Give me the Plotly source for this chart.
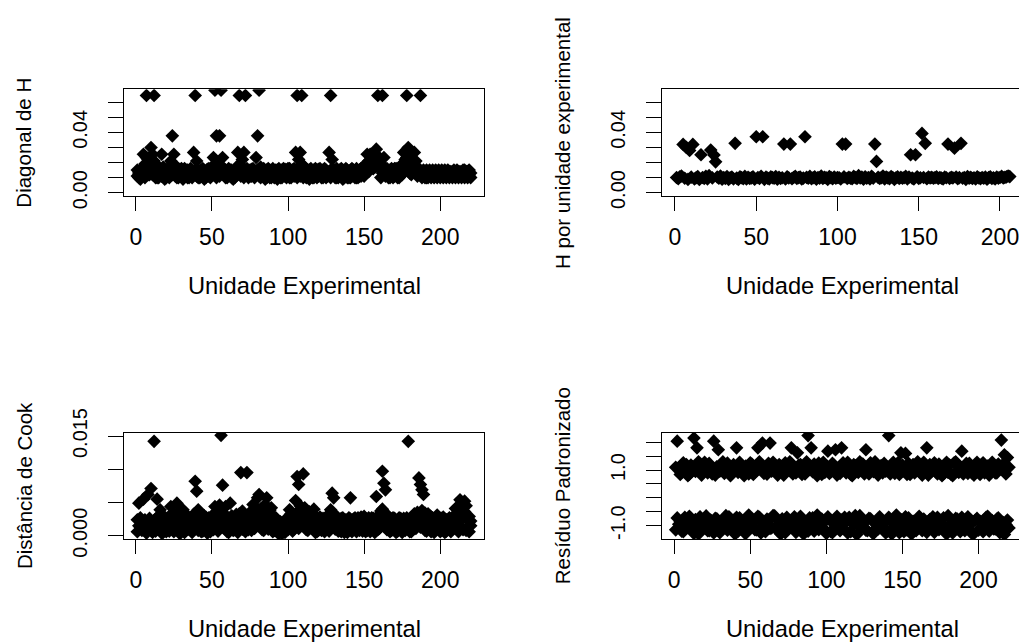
import plotly.graph_objects as go

# ---- data -------------------------------------------------------------
# Two observations per experimental unit (units 1..220) for the per-observation
# diagnostics; one value per unit (1..206) for H per experimental unit.

# Diagonal of H, first observation of each unit
diag_h_a = [
    0.011, 0.013, 0.009, 0.016, 0.0255, 0.019, 0.0645, 0.022, 0.012, 0.030,
    0.0255, 0.0645, 0.019, 0.010, 0.014, 0.012, 0.0255, 0.017, 0.009, 0.013,
    0.011, 0.015, 0.021, 0.0377, 0.0255, 0.018, 0.010, 0.014, 0.012, 0.016,
    0.009, 0.013, 0.011, 0.015, 0.010, 0.012, 0.014, 0.0267, 0.0645, 0.021,
    0.010, 0.013, 0.015, 0.011, 0.009, 0.014, 0.012, 0.016, 0.010, 0.013,
    0.0233, 0.068, 0.0377, 0.0178, 0.0377, 0.068, 0.0233, 0.012, 0.015, 0.010,
    0.013, 0.011, 0.015, 0.009, 0.014, 0.012, 0.0267, 0.0645, 0.016, 0.022,
    0.0267, 0.0645, 0.013, 0.010, 0.015, 0.011, 0.012, 0.014, 0.0233, 0.0377,
    0.068, 0.017, 0.011, 0.013, 0.009, 0.015, 0.012, 0.010, 0.014, 0.011,
    0.013, 0.015, 0.009, 0.012, 0.014, 0.010, 0.013, 0.011, 0.015, 0.012,
    0.010, 0.014, 0.012, 0.016, 0.0267, 0.0645, 0.022, 0.0267, 0.0645, 0.018,
    0.011, 0.013, 0.015, 0.009, 0.012, 0.014, 0.010, 0.013, 0.015, 0.011,
    0.012, 0.014, 0.010, 0.013, 0.015, 0.011, 0.0267, 0.0645, 0.022, 0.012,
    0.014, 0.010, 0.013, 0.015, 0.011, 0.009, 0.014, 0.012, 0.010, 0.013,
    0.015, 0.011, 0.012, 0.014, 0.010, 0.013, 0.015, 0.011, 0.012, 0.016,
    0.019, 0.0255, 0.021, 0.0255, 0.0255, 0.020, 0.017, 0.0289, 0.0645, 0.0233,
    0.0189, 0.0645, 0.0233, 0.016, 0.012, 0.014, 0.010, 0.013, 0.015, 0.011,
    0.012, 0.014, 0.010, 0.013, 0.019, 0.0267, 0.022, 0.0645, 0.030, 0.020,
    0.017, 0.022, 0.0267, 0.021, 0.016, 0.013, 0.0645, 0.014, 0.011, 0.013,
    0.015, 0.010, 0.012, 0.014, 0.011, 0.013, 0.015, 0.010, 0.012, 0.014,
    0.011, 0.013, 0.015, 0.010, 0.012, 0.014, 0.011, 0.013, 0.015, 0.010,
    0.012, 0.014, 0.011, 0.013, 0.015, 0.010, 0.012, 0.014, 0.011, 0.013,
]

# Diagonal of H, second observation of each unit
diag_h_b = [
    0.015, 0.010, 0.014, 0.011, 0.013, 0.010, 0.0233, 0.012, 0.0189, 0.0145,
    0.012, 0.021, 0.010, 0.015, 0.010, 0.016, 0.011, 0.013, 0.014, 0.010,
    0.016, 0.010, 0.013, 0.012, 0.016, 0.011, 0.015, 0.010, 0.0155, 0.011,
    0.014, 0.016, 0.015, 0.010, 0.014, 0.016, 0.010, 0.012, 0.015, 0.011,
    0.015, 0.010, 0.011, 0.016, 0.014, 0.010, 0.0155, 0.011, 0.014, 0.017,
    0.012, 0.016, 0.010, 0.014, 0.011, 0.015, 0.013, 0.016, 0.010, 0.014,
    0.016, 0.015, 0.010, 0.014, 0.010, 0.016, 0.012, 0.0189, 0.011, 0.013,
    0.010, 0.015, 0.016, 0.014, 0.011, 0.0155, 0.016, 0.010, 0.012, 0.015,
    0.011, 0.010, 0.015, 0.016, 0.014, 0.010, 0.016, 0.015, 0.010, 0.016,
    0.010, 0.011, 0.015, 0.016, 0.010, 0.015, 0.016, 0.0155, 0.010, 0.016,
    0.016, 0.010, 0.015, 0.011, 0.013, 0.010, 0.015, 0.011, 0.0189, 0.010,
    0.016, 0.010, 0.011, 0.015, 0.016, 0.010, 0.015, 0.016, 0.010, 0.0155,
    0.016, 0.010, 0.015, 0.016, 0.010, 0.014, 0.012, 0.010, 0.016, 0.015,
    0.010, 0.016, 0.010, 0.011, 0.016, 0.015, 0.010, 0.016, 0.015, 0.010,
    0.010, 0.016, 0.015, 0.010, 0.016, 0.010, 0.011, 0.016, 0.015, 0.011,
    0.013, 0.017, 0.014, 0.019, 0.021, 0.016, 0.0215, 0.020, 0.0189, 0.017,
    0.010, 0.013, 0.015, 0.011, 0.016, 0.010, 0.015, 0.016, 0.010, 0.016,
    0.016, 0.010, 0.015, 0.017, 0.012, 0.014, 0.017, 0.0233, 0.016, 0.013,
    0.012, 0.015, 0.017, 0.013, 0.011, 0.016, 0.012, 0.010, 0.015, 0.010,
    0.010, 0.014, 0.015, 0.010, 0.015, 0.010, 0.011, 0.014, 0.015, 0.010,
    0.015, 0.010, 0.011, 0.014, 0.015, 0.010, 0.014, 0.010, 0.011, 0.014,
    0.015, 0.010, 0.014, 0.010, 0.011, 0.015, 0.014, 0.010, 0.015, 0.010,
]

# H per experimental unit (206 units)
h_unit = [
    0.0100, 0.0092, 0.0105, 0.0110, 0.0320, 0.0095, 0.0300, 0.0088, 0.0280, 0.0102,
    0.0320, 0.0090, 0.0098, 0.0106, 0.0087, 0.0251, 0.0100, 0.0094, 0.0108, 0.0091,
    0.0112, 0.0282, 0.0097, 0.0249, 0.0204, 0.0103, 0.0095, 0.0110, 0.0089, 0.0100,
    0.0093, 0.0106, 0.0088, 0.0098, 0.0102, 0.0091, 0.0327, 0.0096, 0.0087, 0.0104,
    0.0099, 0.0092, 0.0107, 0.0090, 0.0101, 0.0094, 0.0097, 0.0105, 0.0089, 0.0371,
    0.0100, 0.0093, 0.0108, 0.0371, 0.0088, 0.0102, 0.0096, 0.0091, 0.0104, 0.0099,
    0.0095, 0.0106, 0.0089, 0.0101, 0.0093, 0.0098, 0.0322, 0.0090, 0.0105, 0.0097,
    0.0322, 0.0092, 0.0100, 0.0108, 0.0094, 0.0099, 0.0103, 0.0090, 0.0096, 0.0371,
    0.0101, 0.0095, 0.0107, 0.0092, 0.0098, 0.0104, 0.0089, 0.0100, 0.0096, 0.0110,
    0.0093, 0.0101, 0.0097, 0.0088, 0.0106, 0.0099, 0.0092, 0.0103, 0.0095, 0.0100,
    0.0098, 0.0090, 0.0322, 0.0104, 0.0322, 0.0094, 0.0101, 0.0096, 0.0092, 0.0107,
    0.0099, 0.0093, 0.0112, 0.0097, 0.0102, 0.0089, 0.0105, 0.0095, 0.0100, 0.0091,
    0.0108, 0.0096, 0.0322, 0.0207, 0.0101, 0.0094, 0.0099, 0.0110, 0.0090, 0.0103,
    0.0097, 0.0092, 0.0106, 0.0100, 0.0088, 0.0098, 0.0104, 0.0093, 0.0101, 0.0095,
    0.0099, 0.0107, 0.0091, 0.0102, 0.0251, 0.0096, 0.0090, 0.0251, 0.0105, 0.0094,
    0.0098, 0.0393, 0.0100, 0.0327, 0.0092, 0.0103, 0.0097, 0.0101, 0.0095, 0.0099,
    0.0104, 0.0093, 0.0100, 0.0096, 0.0091, 0.0102, 0.0098, 0.0322, 0.0094, 0.0101,
    0.0097, 0.0295, 0.0103, 0.0092, 0.0099, 0.0327, 0.0095, 0.0100, 0.0088, 0.0106,
    0.0096, 0.0101, 0.0093, 0.0098, 0.0090, 0.0104, 0.0097, 0.0092, 0.0100, 0.0095,
    0.0102, 0.0089, 0.0099, 0.0105, 0.0094, 0.0098, 0.0091, 0.0103, 0.0096, 0.0100,
    0.0107, 0.0097, 0.0101, 0.0104, 0.0110, 0.0106,
]

# Cook's distance, first observation of each unit
cook_a = [
    0.0024, 0.0049, 0.0012, 0.0008, 0.0055, 0.0016, 0.0004, 0.0062, 0.0010, 0.0071,
    0.0019, 0.0142, 0.0007, 0.0055, 0.0013, 0.0039, 0.0021, 0.0005, 0.0011, 0.0017,
    0.0009, 0.0026, 0.0044, 0.0014, 0.0006, 0.0031, 0.0049, 0.0018, 0.0003, 0.0012,
    0.0039, 0.0022, 0.0008, 0.0015, 0.0010, 0.0027, 0.0005, 0.0019, 0.0082, 0.0067,
    0.0039, 0.0011, 0.0023, 0.0007, 0.0016, 0.0028, 0.0004, 0.0013, 0.0020, 0.0030,
    0.0009, 0.0044, 0.0017, 0.0025, 0.0046, 0.0151, 0.0076, 0.0012, 0.0044, 0.0006,
    0.0021, 0.0049, 0.0014, 0.0008, 0.0027, 0.0018, 0.0005, 0.0033, 0.0095, 0.0037,
    0.0012, 0.0024, 0.0095, 0.0009, 0.0016, 0.0029, 0.0047, 0.0011, 0.0020, 0.0057,
    0.0062, 0.0015, 0.0026, 0.0008, 0.0019, 0.0057, 0.0032, 0.0013, 0.0042, 0.0006,
    0.0022, 0.0010, 0.0017, 0.0004, 0.0021, 0.0012, 0.0008, 0.0015, 0.0011, 0.0024,
    0.0039, 0.0018, 0.0027, 0.0010, 0.0053, 0.0089, 0.0077, 0.0045, 0.0016, 0.0093,
    0.0042, 0.0024, 0.0008, 0.0036, 0.0019, 0.0013, 0.0040, 0.0028, 0.0006, 0.0021,
    0.0015, 0.0025, 0.0009, 0.0018, 0.0028, 0.0012, 0.0023, 0.0039, 0.0064, 0.0057,
    0.0030, 0.0016, 0.0007, 0.0022, 0.0026, 0.0011, 0.0019, 0.0024, 0.0005, 0.0027,
    0.0057, 0.0017, 0.0025, 0.0010, 0.0021, 0.0027, 0.0008, 0.0014, 0.0026, 0.0019,
    0.0006, 0.0024, 0.0012, 0.0022, 0.0027, 0.0009, 0.0018, 0.0059, 0.0026, 0.0011,
    0.0037, 0.0097, 0.0079, 0.0069, 0.0025, 0.0014, 0.0021, 0.0008, 0.0027, 0.0016,
    0.0005, 0.0023, 0.0012, 0.0026, 0.0019, 0.0010, 0.0024, 0.0015, 0.0142, 0.0022,
    0.0017, 0.0026, 0.0033, 0.0011, 0.0020, 0.0087, 0.0077, 0.0069, 0.0062, 0.0034,
    0.0024, 0.0033, 0.0013, 0.0028, 0.0008, 0.0021, 0.0025, 0.0016, 0.0010, 0.0023,
    0.0026, 0.0012, 0.0019, 0.0007, 0.0022, 0.0014, 0.0025, 0.0011, 0.0030, 0.0041,
    0.0042, 0.0020, 0.0054, 0.0013, 0.0032, 0.0052, 0.0008, 0.0024, 0.0029, 0.0015,
]

# Cook's distance, second observation of each unit
cook_b = [
    0.0006, 0.0015, 0.0027, 0.0019, 0.0009, 0.0024, 0.0018, 0.0011, 0.0026, 0.0014,
    0.0005, 0.0022, 0.0025, 0.0010, 0.0030, 0.0008, 0.0004, 0.0024, 0.0028, 0.0006,
    0.0023, 0.0007, 0.0016, 0.0034, 0.0025, 0.0010, 0.0021, 0.0036, 0.0022, 0.0032,
    0.0012, 0.0005, 0.0026, 0.0030, 0.0024, 0.0009, 0.0021, 0.0032, 0.0014, 0.0025,
    0.0008, 0.0027, 0.0006, 0.0025, 0.0030, 0.0010, 0.0023, 0.0027, 0.0006, 0.0012,
    0.0029, 0.0011, 0.0035, 0.0007, 0.0016, 0.0040, 0.0024, 0.0033, 0.0010, 0.0028,
    0.0005, 0.0017, 0.0030, 0.0026, 0.0009, 0.0032, 0.0024, 0.0012, 0.0028, 0.0010,
    0.0031, 0.0006, 0.0022, 0.0030, 0.0035, 0.0008, 0.0019, 0.0034, 0.0041, 0.0026,
    0.0030, 0.0040, 0.0009, 0.0036, 0.0047, 0.0022, 0.0010, 0.0038, 0.0016, 0.0030,
    0.0008, 0.0027, 0.0005, 0.0019, 0.0007, 0.0003, 0.0018, 0.0005, 0.0026, 0.0009,
    0.0012, 0.0033, 0.0007, 0.0030, 0.0020, 0.0035, 0.0011, 0.0024, 0.0040, 0.0028,
    0.0015, 0.0009, 0.0032, 0.0012, 0.0034, 0.0026, 0.0010, 0.0005, 0.0027, 0.0008,
    0.0028, 0.0008, 0.0026, 0.0006, 0.0012, 0.0030, 0.0007, 0.0016, 0.0034, 0.0022,
    0.0010, 0.0029, 0.0025, 0.0008, 0.0006, 0.0027, 0.0005, 0.0012, 0.0023, 0.0009,
    0.0025, 0.0006, 0.0011, 0.0027, 0.0006, 0.0012, 0.0024, 0.0028, 0.0007, 0.0029,
    0.0026, 0.0008, 0.0027, 0.0006, 0.0013, 0.0026, 0.0005, 0.0022, 0.0009, 0.0032,
    0.0014, 0.0040, 0.0024, 0.0034, 0.0009, 0.0028, 0.0006, 0.0025, 0.0011, 0.0026,
    0.0022, 0.0007, 0.0027, 0.0009, 0.0005, 0.0026, 0.0008, 0.0027, 0.0012, 0.0006,
    0.0006, 0.0010, 0.0015, 0.0030, 0.0035, 0.0026, 0.0013, 0.0038, 0.0021, 0.0008,
    0.0007, 0.0012, 0.0030, 0.0006, 0.0027, 0.0005, 0.0010, 0.0031, 0.0026, 0.0006,
    0.0008, 0.0028, 0.0005, 0.0024, 0.0010, 0.0027, 0.0006, 0.0022, 0.0012, 0.0020,
    0.0030, 0.0006, 0.0024, 0.0035, 0.0009, 0.0036, 0.0045, 0.0012, 0.0006, 0.0022,
]

# Standardized residuals, observations with positive residual
resid_pos = [
    1.10, 2.04, 1.05, 0.84, 0.92, 1.26, 1.00, 1.20, 0.80, 0.85,
    1.18, 1.12, 2.15, 0.95, 1.80, 1.30, 0.98, 0.82, 1.15, 1.28,
    1.02, 0.90, 1.24, 1.08, 0.86, 2.04, 0.82, 1.12, 1.73, 0.96,
    1.15, 1.30, 0.88, 0.95, 1.25, 1.06, 0.80, 0.88, 1.20, 1.05,
    1.80, 0.92, 1.28, 1.18, 1.00, 0.80, 1.14, 1.00, 0.86, 1.26,
    1.22, 0.84, 0.92, 1.10, 1.80, 1.30, 1.10, 1.97, 0.88, 1.04,
    0.85, 1.24, 1.97, 0.96, 1.28, 1.08, 0.96, 0.82, 1.20, 1.14,
    0.90, 0.82, 1.26, 1.04, 1.16, 1.30, 1.80, 0.86, 1.00, 0.90,
    1.62, 1.18, 1.20, 0.84, 1.02, 0.86, 1.30, 2.24, 1.08, 1.80,
    0.94, 1.22, 0.98, 0.80, 1.25, 1.10, 0.84, 1.28, 0.92, 1.12,
    1.68, 0.88, 0.94, 1.24, 1.18, 1.73, 0.82, 1.02, 0.88, 1.80,
    1.26, 1.02, 0.90, 1.28, 1.06, 0.84, 0.80, 1.20, 1.15, 0.96,
    0.92, 1.30, 1.00, 1.22, 0.86, 1.73, 1.12, 0.86, 1.26, 1.06,
    0.94, 1.30, 1.16, 0.82, 1.04, 1.16, 0.90, 1.24, 0.96, 1.10,
    2.24, 0.86, 1.10, 1.28, 0.88, 1.02, 1.26, 0.84, 1.62, 1.18,
    0.98, 1.60, 0.84, 1.24, 0.84, 1.06, 1.20, 0.90, 1.04, 1.30,
    1.12, 0.90, 0.82, 1.28, 1.00, 1.80, 0.82, 1.20, 0.94, 1.14,
    1.26, 0.94, 0.86, 1.22, 1.04, 0.80, 0.86, 1.08, 1.28, 0.92,
    1.18, 0.84, 0.80, 1.26, 1.30, 0.96, 0.92, 1.10, 1.68, 0.86,
    1.02, 1.24, 0.88, 1.24, 1.12, 0.88, 0.82, 1.12, 1.28, 0.96,
    0.84, 1.20, 1.26, 0.90, 0.96, 1.14, 0.82, 1.06, 1.28, 1.16,
    0.90, 0.90, 1.22, 1.04, 2.08, 1.20, 1.55, 0.86, 1.45, 1.10,
]

# Standardized residuals, observations with negative residual
resid_neg = [
    -1.15, -0.72, -0.95, -0.85, -1.20, -1.22, -0.70, -1.05, -0.95, -0.66,
    -1.05, -0.84, -1.28, -0.78, -1.00, -1.30, -0.68, -0.88, -1.10, -0.92,
    -0.65, -1.18, -1.18, -0.80, -0.98, -1.26, -0.74, -0.75, -1.06, -1.25,
    -0.90, -0.90, -1.02, -0.64, -1.16, -0.68, -1.12, -0.96, -0.82, -1.30,
    -0.70, -1.20, -0.72, -1.04, -0.95, -1.24, -1.28, -0.84, -0.62, -1.05,
    -0.92, -0.85, -1.14, -1.15, -0.66, -0.70, -1.26, -0.90, -0.98, -1.22,
    -0.76, -0.80, -1.10, -1.08, -0.64, -0.65, -1.02, -1.18, -0.92, -1.30,
    -0.75, -1.16, -1.25, -0.70, -0.88, -1.06, -0.96, -1.02, -0.68, -1.24,
    -0.84, -1.12, -0.66, -0.82, -1.30, -0.94, -0.95, -1.20, -0.72, -1.08,
    -0.72, -1.20, -0.88, -0.62, -1.14, -1.05, -0.76, -0.90, -1.15, -1.28,
    -0.68, -0.78, -1.22, -1.25, -0.86, -1.02, -0.66, -1.00, -1.18, -0.80,
    -1.10, -0.70, -0.85, -1.26, -0.70, -1.22, -0.92, -0.95, -0.64, -1.32,
    -1.00, -0.64, -1.08, -0.82, -0.88, -1.16, -1.18, -0.74, -0.75, -1.24,
    -1.28, -0.90, -0.98, -1.12, -0.68, -0.80, -1.12, -0.90, -1.26, -1.20,
    -0.70, -0.80, -1.30, -1.05, -0.94, -0.62, -1.10, -1.25, -0.78, -0.92,
    -1.22, -0.68, -1.15, -0.72, -1.04, -1.30, -0.84, -0.86, -1.18, -1.02,
    -0.66, -1.10, -1.18, -0.76, -0.95, -1.24, -0.90, -0.78, -1.10, -0.68,
    -1.24, -0.86, -0.70, -1.14, -0.88, -1.05, -0.72, -1.20, -1.30, -0.64,
    -0.98, -0.96, -1.26, -1.14, -0.74, -0.76, -1.08, -1.22, -0.70, -0.84,
    -1.18, -1.08, -0.68, -0.92, -0.94, -1.30, -1.28, -0.80, -0.74, -1.16,
    -0.84, -0.90, -1.22, -1.02, -0.70, -0.66, -1.20, -0.96, -0.82, -1.12,
    -1.12, -0.76, -0.72, -1.25, -1.04, -0.88, -1.32, -0.96, -0.80, -1.08,
]

x_ticks = [0, 50, 100, 150, 200]
x_ticktext = ["0", "50", "100", "150", "200"]
h_ticks = [0.0, 0.01, 0.02, 0.03, 0.04, 0.05, 0.06]
h_ticktext = ["0.00", "", "", "", "0.04", "", ""]
cook_ticks = [0.0, 0.005, 0.010, 0.015]
cook_ticktext = ["0.000", "", "", "0.015"]
resid_ticks = [-1.0, -0.5, 0.0, 0.5, 1.0, 1.5, 2.0]
resid_ticktext = ["-1.0", "", "", "", "1.0", "", ""]

x_title = "Unidade Experimental"
y_titles = ["Diagonal de H", "H por unidade experimental",
            "Distância de Cook", "Resíduo Padronizado"]

# ---- figure -----------------------------------------------------------
W, H = 1019, 644
FONT = "Liberation Sans, Arial, sans-serif"

def px_x(p):
    return p / W

def px_y(p):
    return 1 - p / H

def units(vals):
    return list(range(1, len(vals) + 1))

panels = [
    [diag_h_a, diag_h_b],
    [h_unit],
    [cook_a, cook_b],
    [resid_pos, resid_neg],
]

fig = go.Figure()
for k, groups in enumerate(panels):
    suffix = "" if k == 0 else str(k + 1)
    xs, ys = [], []
    for vals in groups:
        xs += units(vals)
        ys += vals
    fig.add_trace(go.Scatter(
        x=xs, y=ys, mode="markers",
        marker=dict(symbol="diamond", size=10.5, color="black", line=dict(width=0)),
        xaxis="x" + suffix, yaxis="y" + suffix,
        showlegend=False, hoverinfo="x+y",
    ))

# box positions in pixels: (left, right, top, bottom)
left_l, left_r = 124, 484
right_l, right_r = 662.3, W
top_t, top_b = 89.3, 196
bot_t, bot_b = 432.7, 539.3

x_ranges = [[-7.76, 228.76], [-7.8, 211.7], [-7.76, 228.76], [-7.8, 226.6]]
y_ranges = [[-0.0022, 0.0686], [-0.0023, 0.0686], [-0.00054, 0.0155], [-1.49, 2.345]]
y_tickvals = [h_ticks, h_ticks, cook_ticks, resid_ticks]
y_ticktexts = [h_ticktext, h_ticktext, cook_ticktext, resid_ticktext]
boxes = [
    (left_l, left_r, top_t, top_b),
    (right_l, right_r, top_t, top_b),
    (left_l, left_r, bot_t, bot_b),
    (right_l, right_r, bot_t, bot_b),
]

layout = dict(
    template="none",
    width=W, height=H,
    margin=dict(l=0, r=0, t=0, b=0, pad=0, autoexpand=False),
    paper_bgcolor="white", plot_bgcolor="white",
    font=dict(family=FONT, color="black"),
    annotations=[],
)

for k in range(4):
    suffix = "" if k == 0 else str(k + 1)
    l, r, t, b = boxes[k]
    full_box = r < W
    layout["xaxis" + suffix] = dict(
        domain=[px_x(l), px_x(r)], range=x_ranges[k],
        anchor="y" + suffix, automargin=False,
        showgrid=False, zeroline=False,
        showline=True, mirror=True, linecolor="black", linewidth=1,
        ticks="outside", ticklen=14, tickwidth=1, tickcolor="black",
        tickvals=x_ticks, ticktext=x_ticktext,
        tickfont=dict(size=23, family=FONT, color="black"),
        ticklabelstandoff=6, ticklabeloverflow="allow",
        fixedrange=True,
    )
    layout["yaxis" + suffix] = dict(
        domain=[px_y(b), px_y(t)], range=y_ranges[k],
        anchor="x" + suffix, automargin=False,
        showgrid=False, zeroline=False,
        showline=True, mirror=full_box, linecolor="black", linewidth=1,
        ticks="outside", ticklen=15, tickwidth=1, tickcolor="black",
        tickvals=y_tickvals[k], ticktext=y_ticktexts[k],
        tickangle=-90,
        tickfont=dict(size=20, family=FONT, color="black"),
        ticklabelstandoff=13, ticklabeloverflow="allow",
        fixedrange=True,
    )
    # axis titles
    layout["annotations"].append(dict(
        text=x_title, xref="paper", yref="paper",
        x=px_x((l + (r if full_box else 1022)) / 2),
        y=px_y(b + 90), xanchor="center", yanchor="middle",
        showarrow=False, font=dict(size=23.7, family=FONT, color="black"),
    ))
    layout["annotations"].append(dict(
        text=y_titles[k], xref="paper", yref="paper",
        x=px_x(l - 100), y=px_y((t + b) / 2),
        xanchor="center", yanchor="middle", textangle=-90,
        showarrow=False, font=dict(size=20.5, family=FONT, color="black"),
    ))

fig.update_layout(**layout)
fig.write_html("out.html")
